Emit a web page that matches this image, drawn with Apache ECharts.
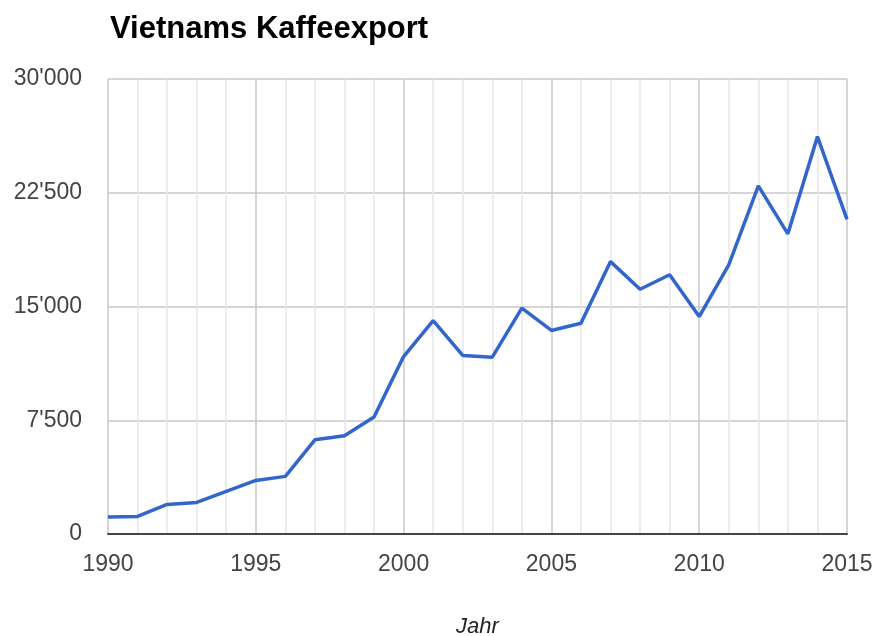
<!DOCTYPE html>
<html>
<head>
<meta charset="utf-8">
<script src="https://cdn.jsdelivr.net/npm/echarts@6/dist/echarts.min.js"></script>
<style>html,body{margin:0;padding:0;background:#fff;}#c{width:875px;height:636px;}</style>
</head>
<body>
<div id="c"></div>
<script>
const years = [1990,1991,1992,1993,1994,1995,1996,1997,1998,1999,2000,2001,2002,2003,2004,2005,2006,2007,2008,2009,2010,2011,2012,2013,2014,2015];
const exportValues = [1120,1160,1950,2080,2810,3530,3800,6210,6480,7710,11700,14070,11770,11660,14890,13420,13900,17960,16140,17090,14340,17740,22950,19790,26200,20750];
const titleText = 'Vietnams Kaffeexport';
const xAxisName = 'Jahr';

const fmt = v => String(v).replace(/\B(?=(\d{3})+(?!\d))/g, "'");
const chart = echarts.init(document.getElementById('c'));
chart.setOption({
  animation: false,
  backgroundColor: '#fff',
  title: {
    text: titleText, left: 105, top: 9,
    textStyle: { fontFamily: 'Liberation Sans, Arial', fontSize: 31, fontWeight: 'bold', color: '#000' }
  },
  grid: { left: 108, right: 28, top: 79, bottom: 102, outerBoundsMode: 'none', containLabel: false },
  xAxis: {
    type: 'value', min: 1990, max: 2015, interval: 5,
    name: xAxisName, nameLocation: 'middle', nameGap: 82,
    nameTextStyle: { fontFamily: 'Liberation Sans, Arial', fontSize: 22, fontStyle: 'italic', color: '#222' },
    axisLine: { show: true, lineStyle: { color: '#444', width: 2 } },
    axisTick: { show: false },
    axisLabel: { fontFamily: 'Liberation Sans, Arial', fontSize: 23, color: '#444', margin: 19, formatter: v => String(v) },
    splitLine: { show: true, lineStyle: { color: '#c8c8c8', width: 1.5 } },
    minorTick: { show: false, splitNumber: 5 },
    minorSplitLine: { show: true, lineStyle: { color: '#e6e6e6', width: 1.5 } }
  },
  yAxis: {
    type: 'value', min: 0, max: 30000, interval: 7500,
    axisLine: { show: false },
    axisTick: { show: false },
    axisLabel: { fontFamily: 'Liberation Sans, Arial', fontSize: 23, color: '#444', margin: 26, formatter: fmt },
    splitLine: { show: true, lineStyle: { color: '#c8c8c8', width: 1.5 } }
  },
  series: [{
    type: 'line',
    data: years.map((y, i) => [y, exportValues[i]]),
    showSymbol: false,
    lineStyle: { color: '#3366cc', width: 3.5 },
    itemStyle: { color: '#3366cc' }
  }]
});
</script>
</body>
</html>
